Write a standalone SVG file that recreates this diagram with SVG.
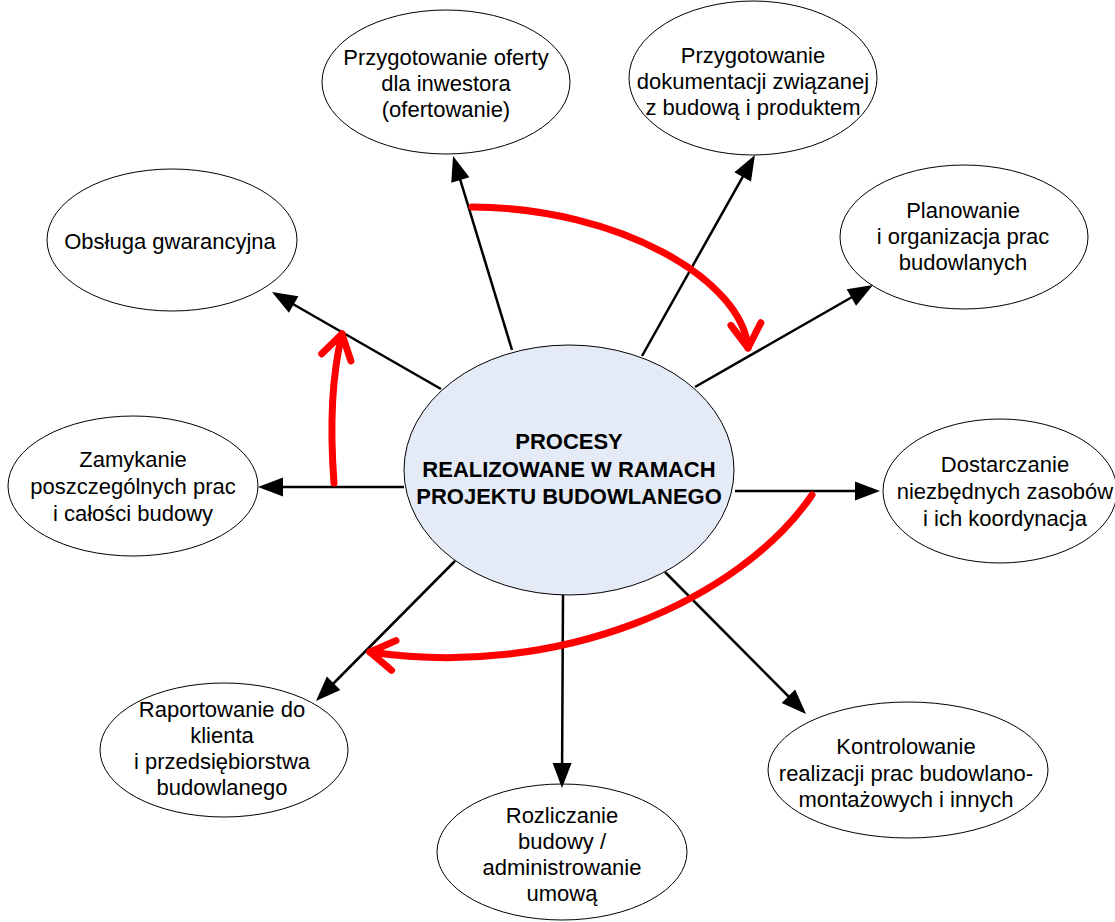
<svg xmlns="http://www.w3.org/2000/svg" width="1115" height="922" viewBox="0 0 1115 922">
  <style>
    .node ellipse { fill: #ffffff; stroke: #000000; stroke-width: 1; }
    .hub ellipse { fill: #e5ebf6; stroke: #000000; stroke-width: 1; }
    text { font-family: "Liberation Sans", Arial, sans-serif; font-size: 22px; fill: #000000; text-anchor: middle; }
    .hub text { font-weight: bold; }
    .link { stroke: #000000; stroke-width: 2.5; fill: none; marker-end: url(#tip); }
    .flow { stroke: #ff0000; stroke-width: 7; fill: none; stroke-linecap: round; marker-end: url(#chevron); }
  </style>
  <defs>
    <marker id="tip" markerUnits="userSpaceOnUse" orient="auto" overflow="visible" markerWidth="30" markerHeight="30" refX="0" refY="0">
      <path d="M5,0 L-20,-9.5 L-20,9.5 Z" fill="#000000"/>
    </marker>
    <marker id="chevron" markerUnits="userSpaceOnUse" orient="auto" overflow="visible" markerWidth="40" markerHeight="40" refX="0" refY="0">
      <path d="M-24,-15 L0,0 L-24,15" fill="none" stroke="#ff0000" stroke-width="7" stroke-linecap="round" stroke-linejoin="round"/>
    </marker>
  </defs>

  <!-- outer process nodes -->
  <g id="oferta" class="node">
    <ellipse cx="446" cy="82" rx="124" ry="72"/>
    <text x="446" y="65">Przygotowanie oferty</text>
    <text x="446" y="91">dla inwestora</text>
    <text x="446" y="117">(ofertowanie)</text>
  </g>
  <g id="dokumentacja" class="node">
    <ellipse cx="753" cy="78" rx="124" ry="77"/>
    <text x="753" y="63">Przygotowanie</text>
    <text x="753" y="89">dokumentacji związanej</text>
    <text x="753" y="115">z budową i produktem</text>
  </g>
  <g id="gwarancja" class="node">
    <ellipse cx="172" cy="240" rx="125" ry="71"/>
    <text x="170" y="249">Obsługa gwarancyjna</text>
  </g>
  <g id="planowanie" class="node">
    <ellipse cx="964" cy="237" rx="124" ry="72"/>
    <text x="963" y="218">Planowanie</text>
    <text x="963" y="244">i organizacja prac</text>
    <text x="963" y="270">budowlanych</text>
  </g>
  <g id="zamykanie" class="node">
    <ellipse cx="133" cy="486" rx="125" ry="70"/>
    <text x="133" y="467">Zamykanie</text>
    <text x="133" y="494">poszczególnych prac</text>
    <text x="133" y="521">i całości budowy</text>
  </g>
  <g id="zasoby" class="node">
    <ellipse cx="1000" cy="491" rx="117" ry="72"/>
    <text x="1005" y="472">Dostarczanie</text>
    <text x="1005" y="499">niezbędnych zasobów</text>
    <text x="1005" y="526">i ich koordynacja</text>
  </g>
  <g id="raportowanie" class="node">
    <ellipse cx="224" cy="750" rx="124" ry="67"/>
    <text x="222" y="717">Raportowanie do</text>
    <text x="222" y="743">klienta</text>
    <text x="222" y="769">i przedsiębiorstwa</text>
    <text x="222" y="795">budowlanego</text>
  </g>
  <g id="rozliczanie" class="node">
    <ellipse cx="562" cy="852" rx="125" ry="68"/>
    <text x="562" y="823">Rozliczanie</text>
    <text x="562" y="849">budowy /</text>
    <text x="562" y="875">administrowanie</text>
    <text x="562" y="901">umową</text>
  </g>
  <g id="kontrola" class="node">
    <ellipse cx="908" cy="770" rx="140" ry="68"/>
    <text x="906" y="754">Kontrolowanie</text>
    <text x="906" y="781">realizacji prac budowlano-</text>
    <text x="906" y="807">montażowych i innych</text>
  </g>

  <!-- connectors from the hub to each process -->
  <g id="connectors">
    <line class="link" x1="512" y1="350" x2="454.5" y2="160.8"/>
    <line class="link" x1="642" y1="356" x2="752.5" y2="159.4"/>
    <line class="link" x1="441" y1="389" x2="276.3" y2="294.5"/>
    <line class="link" x1="695" y1="387" x2="868.7" y2="287.5"/>
    <line class="link" x1="404" y1="487" x2="263" y2="487"/>
    <line class="link" x1="735" y1="491" x2="875" y2="491"/>
    <line class="link" x1="455" y1="561" x2="319.5" y2="697.5"/>
    <line class="link" x1="563" y1="595" x2="562" y2="783"/>
    <line class="link" x1="665" y1="572" x2="802.5" y2="710.5"/>

    <!-- red sequence arrows -->
    <path class="flow" d="M472,207 C620,208 742,280 748,348"/>
    <path class="flow" d="M334,483 C330,430 332,375 342,334"/>
    <path class="flow" d="M812,495 C740,600 560,680 370,652"/>
  </g>

  <!-- central hub -->
  <g id="procesy" class="hub">
    <ellipse cx="569" cy="470" rx="165" ry="125"/>
    <text x="569" y="449">PROCESY</text>
    <text x="569" y="477">REALIZOWANE W RAMACH</text>
    <text x="569" y="504">PROJEKTU BUDOWLANEGO</text>
  </g>
</svg>
